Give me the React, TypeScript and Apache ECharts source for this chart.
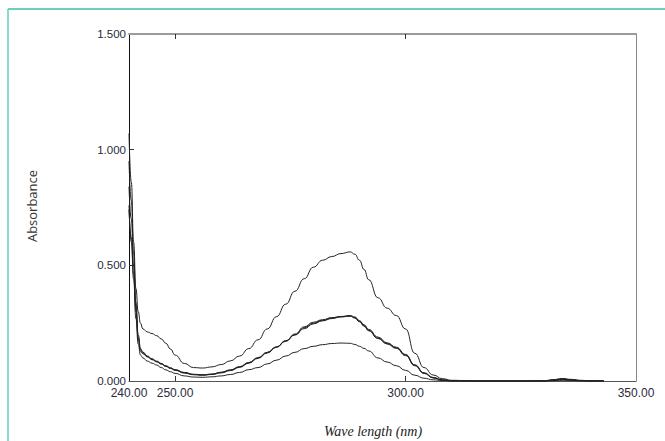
import React, { useEffect, useRef } from "react";
import * as echarts from "echarts";

const wavelengths = [240, 240.5, 241, 241.5, 242, 242.5, 243, 244, 245, 246, 247, 248, 249, 250, 252, 254, 256, 258, 260, 262, 264, 266, 268, 270, 272, 274, 276, 278, 280, 282, 284, 286, 288, 289, 290, 291, 292, 294, 296, 298, 300, 302, 304, 306, 308, 310, 315, 320, 325, 330, 332, 334, 336, 338, 340, 343];

const sampleA = [1.07, 0.86, 0.6, 0.4, 0.3, 0.25, 0.225, 0.212, 0.205, 0.196, 0.182, 0.163, 0.138, 0.112, 0.076, 0.058, 0.056, 0.061, 0.071, 0.087, 0.108, 0.14, 0.178, 0.225, 0.278, 0.332, 0.388, 0.442, 0.492, 0.522, 0.538, 0.551, 0.558, 0.548, 0.522, 0.482, 0.438, 0.36, 0.315, 0.283, 0.225, 0.12, 0.058, 0.026, 0.01, 0.003, 0, 0, 0, 0.001, 0.006, 0.011, 0.007, 0.003, 0.001, 0];
const sampleB = [0.84, 0.7, 0.5, 0.32, 0.19, 0.135, 0.122, 0.106, 0.094, 0.084, 0.074, 0.064, 0.056, 0.048, 0.036, 0.028, 0.026, 0.029, 0.037, 0.047, 0.061, 0.079, 0.1, 0.123, 0.147, 0.172, 0.2, 0.23, 0.25, 0.262, 0.272, 0.278, 0.281, 0.274, 0.258, 0.24, 0.219, 0.186, 0.162, 0.143, 0.112, 0.068, 0.034, 0.014, 0.004, 0.001, 0, 0, 0, 0, 0.004, 0.008, 0.005, 0.002, 0, 0];
const sampleC = [0.74, 0.62, 0.46, 0.3, 0.18, 0.128, 0.118, 0.104, 0.092, 0.083, 0.073, 0.063, 0.054, 0.046, 0.034, 0.027, 0.025, 0.028, 0.035, 0.045, 0.059, 0.077, 0.098, 0.121, 0.146, 0.173, 0.203, 0.234, 0.254, 0.265, 0.274, 0.279, 0.283, 0.277, 0.261, 0.243, 0.223, 0.19, 0.165, 0.146, 0.115, 0.07, 0.036, 0.015, 0.005, 0.001, 0, 0, 0, 0, 0.003, 0.007, 0.004, 0.001, 0, 0];
const sampleD = [0.95, 0.78, 0.55, 0.34, 0.2, 0.14, 0.125, 0.108, 0.096, 0.086, 0.076, 0.066, 0.057, 0.049, 0.037, 0.029, 0.027, 0.03, 0.038, 0.048, 0.062, 0.08, 0.101, 0.124, 0.148, 0.174, 0.199, 0.226, 0.247, 0.26, 0.27, 0.277, 0.28, 0.272, 0.256, 0.237, 0.217, 0.184, 0.16, 0.141, 0.11, 0.066, 0.033, 0.013, 0.004, 0, 0, 0, 0, 0, 0.002, 0.006, 0.004, 0.001, 0, 0];
const sampleE = [0.76, 0.6, 0.44, 0.27, 0.16, 0.112, 0.1, 0.086, 0.077, 0.069, 0.058, 0.048, 0.04, 0.033, 0.022, 0.017, 0.016, 0.018, 0.022, 0.028, 0.037, 0.049, 0.058, 0.074, 0.09, 0.108, 0.124, 0.14, 0.15, 0.157, 0.162, 0.164, 0.163, 0.158, 0.15, 0.141, 0.13, 0.1, 0.082, 0.066, 0.046, 0.025, 0.012, 0.005, 0.002, 0, 0, 0, 0, 0, 0.001, 0.003, 0.002, 0, 0, 0];

const xLabelValues = [240, 250, 300, 350];
const xTickValues = [250, 300];
const yTickValues = [0.5, 1.0];

const seriesList = [sampleA, sampleB, sampleC, sampleD, sampleE];

export default function App() {
  const ref = useRef<HTMLDivElement>(null);
  useEffect(() => {
    document.body.style.margin = "0";
    if (!ref.current) return;
    const chart = echarts.init(ref.current, null, { renderer: "svg" });
    const xBase = { type: "value", min: 240, max: 350, interval: 10, splitLine: { show: false } };
    const yBase = { type: "value", min: 0, max: 1.5, interval: 0.5, splitLine: { show: false } };
    chart.setOption({
      animation: false,
      backgroundColor: "#ffffff",
      grid: { left: 129, right: 29, top: 34, bottom: 60 },
      xAxis: [
        {
          ...xBase,
          position: "bottom",
          axisLine: { show: true, onZero: false, lineStyle: { color: "#555", width: 1 } },
          axisTick: { show: true, inside: true, length: 5, customValues: xTickValues, lineStyle: { color: "#333" } },
          axisLabel: {
            customValues: xLabelValues,
            formatter: (v: number) => v.toFixed(2),
            color: "#2a2a3a",
            fontFamily: "Liberation Sans, Arial, sans-serif",
            fontSize: 12,
            margin: 6,
          },
        },
        {
          ...xBase,
          position: "top",
          axisLine: { show: true, onZero: false, lineStyle: { color: "#9a9a9a", width: 2 } },
          axisTick: { show: true, inside: true, length: 5, customValues: xTickValues, lineStyle: { color: "#333" } },
          axisLabel: { show: false },
        },
      ],
      yAxis: [
        {
          ...yBase,
          position: "left",
          axisLine: { show: true, onZero: false, lineStyle: { color: "#111", width: 1 } },
          axisTick: { show: true, inside: true, length: 5, customValues: yTickValues, lineStyle: { color: "#333" } },
          axisLabel: {
            formatter: (v: number) => v.toFixed(3),
            color: "#2a2a3a",
            fontFamily: "Liberation Sans, Arial, sans-serif",
            fontSize: 11.5,
            margin: 3,
          },
        },
        {
          ...yBase,
          position: "right",
          axisLine: { show: true, onZero: false, lineStyle: { color: "#888", width: 1 } },
          axisTick: { show: false },
          axisLabel: { show: false },
        },
      ],
      series: seriesList.map((vals, i) => ({
        type: "line",
        name: "s" + i,
        xAxisIndex: 0,
        yAxisIndex: 0,
        data: wavelengths.map((w, j) => [w, vals[j]]),
        showSymbol: false,
        smooth: 0.5,
        smoothMonotone: "x",
        lineStyle: { color: "#222", width: 1 },
        z: 3,
      })),
      graphic: [
        { type: "line", shape: { x1: 8, y1: 9, x2: 665, y2: 9 }, style: { stroke: "#3dbf9f", lineWidth: 1.5 } },
        { type: "line", shape: { x1: 8, y1: 9, x2: 8, y2: 441 }, style: { stroke: "#5fd2b8", lineWidth: 1.5 } },
        {
          type: "text",
          x: 32,
          y: 206,
          rotation: Math.PI / 2,
          style: {
            text: "Absorbance",
            fill: "#333",
            font: "13px 'Open Sans', sans-serif",
            align: "center",
            verticalAlign: "middle",
          },
        },
        {
          type: "text",
          x: 373,
          y: 431,
          style: {
            text: "Wave length (nm)",
            fill: "#222",
            font: "italic 14px 'Liberation Serif', 'Times New Roman', serif",
            align: "center",
            verticalAlign: "middle",
          },
        },
      ],
    });
    return () => chart.dispose();
  }, []);
  return <div ref={ref} style={{ width: 665, height: 441 }} />;
}
